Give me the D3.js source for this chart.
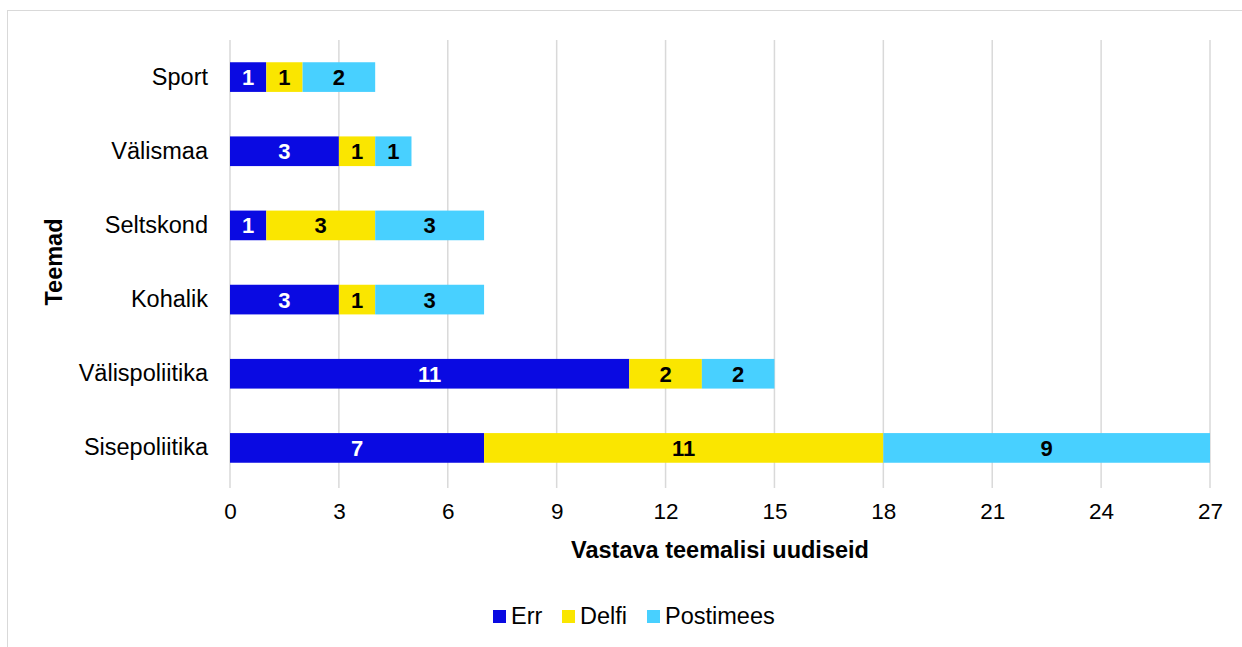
<!DOCTYPE html>
<html><head><meta charset="utf-8">
<script src="https://cdn.jsdelivr.net/npm/d3@7"></script>
<style>body{margin:0;background:#fff;font-family:Arial,"Liberation Sans",sans-serif}</style>
</head><body>
<svg id="c" width="1242" height="647"></svg>
<script>
const categories = ["Sport","Välismaa","Seltskond","Kohalik","Välispoliitika","Sisepoliitika"];
const seriesNames = ["Err","Delfi","Postimees"];
const errValues = [1,3,1,3,11,7];
const delfiValues = [1,1,3,1,2,11];
const postimeesValues = [2,1,3,3,2,9];
const xTicks = [0,3,6,9,12,15,18,21,24,27];
const colors = ["#0a0ae2","#fae600","#48d0ff"];
const labelColors = ["#ffffff","#000000","#000000"];
const FF = "Arial,'Liberation Sans',sans-serif";

const svg = d3.select("#c").attr("font-family",FF);
svg.append("rect").attr("x",7.5).attr("y",10.5).attr("width",1300).attr("height",700)
  .attr("fill","#fff").attr("stroke","#d9d9d9").attr("stroke-width",1);

const x = d3.scaleLinear().domain([0,27]).range([230,1210]);
const y = d3.scaleBand().domain(categories).range([40,485]).paddingInner(0.6).paddingOuter(0.3);

const rows = categories.map((c,i)=>({cat:c, Err:errValues[i], Delfi:delfiValues[i], Postimees:postimeesValues[i]}));
const stack = d3.stack().keys(seriesNames)(rows);

// gridlines
svg.append("g").selectAll("line").data(xTicks).join("line")
  .attr("x1",d=>x(d)).attr("x2",d=>x(d)).attr("y1",40).attr("y2",488)
  .attr("stroke","#d9d9d9").attr("stroke-width",1.5);

// bars
stack.forEach((s,si)=>{
  const g = svg.append("g");
  g.selectAll("rect").data(s).join("rect")
    .attr("x",d=>x(d[0])).attr("width",d=>x(d[1])-x(d[0]))
    .attr("y",d=>y(d.data.cat)).attr("height",y.bandwidth())
    .attr("fill",colors[si]);
  g.selectAll("text").data(s).join("text")
    .attr("x",d=>(x(d[0])+x(d[1]))/2).attr("y",d=>y(d.data.cat)+y.bandwidth()/2)
    .attr("dy","0.36em").attr("text-anchor","middle")
    .attr("font-size",22).attr("font-weight","bold").attr("fill",labelColors[si])
    .text(d=>d[1]-d[0]);
});

// category labels
const ya = d3.axisLeft(y).tickSize(0).tickPadding(22);
const yg = svg.append("g").attr("transform","translate(230,0)").call(ya);
yg.select(".domain").remove();
yg.selectAll("text").attr("font-size",23.5).attr("font-family",FF).attr("fill","#000");

// x axis labels
const xa = d3.axisBottom(x).tickValues(xTicks).tickSize(0).tickPadding(14);
const xg = svg.append("g").attr("transform","translate(0,489)").call(xa);
xg.select(".domain").remove();
xg.selectAll("text").attr("font-size",22.5).attr("font-family",FF).attr("fill","#000");

svg.append("text").attr("x",720).attr("y",558).attr("text-anchor","middle")
  .attr("font-size",23.5).attr("font-weight","bold").text("Vastava teemalisi uudiseid");
svg.append("text").attr("transform","translate(62,262) rotate(-90)").attr("text-anchor","middle")
  .attr("font-size",23.5).attr("font-weight","bold").text("Teemad");

// legend
const legX = [493,562,647];
seriesNames.forEach((n,i)=>{
  svg.append("rect").attr("x",legX[i]).attr("y",610).attr("width",13).attr("height",13).attr("fill",colors[i]);
  svg.append("text").attr("x",legX[i]+18).attr("y",624).attr("font-size",23.5).attr("fill","#000").text(n);
});
</script>
</body></html>
